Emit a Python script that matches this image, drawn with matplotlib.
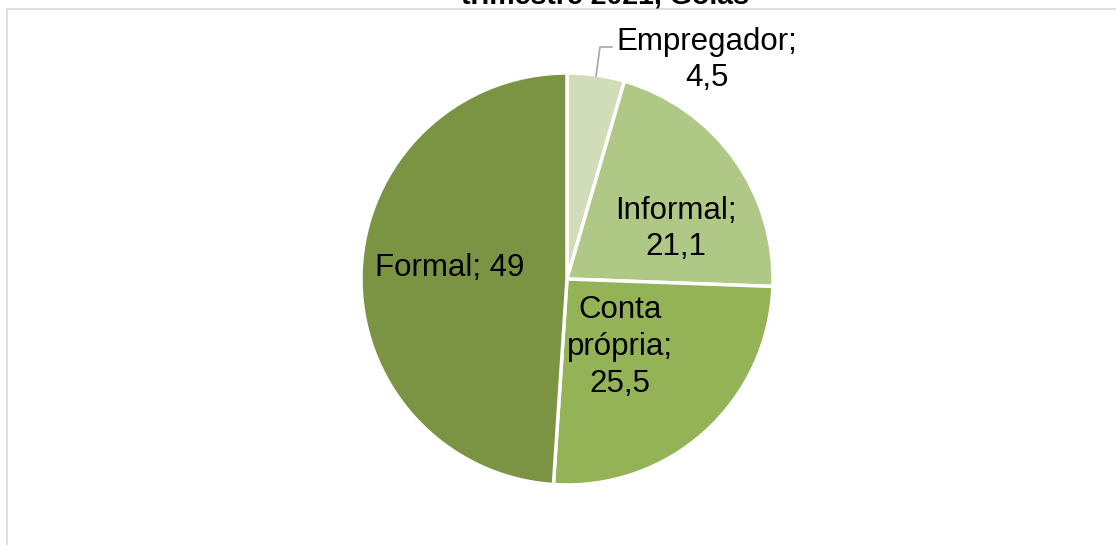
import matplotlib.pyplot as plt
from matplotlib.patches import Rectangle

plt.rcParams['font.family'] = ['Liberation Sans', 'DejaVu Sans']

categorias = ['Empregador', 'Informal', 'Conta própria', 'Formal']
valores = [4.5, 21.1, 25.5, 49]
rotulos = ['Empregador;\n4,5', 'Informal;\n21,1', 'Conta\nprópria;\n25,5', 'Formal; 49']
cores = ['#D0DDB8', '#AFC886', '#93B356', '#7A9443']

W, H = 1116, 545
fig = plt.figure(figsize=(W / 100, H / 100), dpi=100)
ax = fig.add_axes([0, 0, 1, 1])
ax.set_aspect('equal')

# chart area border (cut at right and bottom)
fig.patches.append(Rectangle((7 / W, -0.1), 1.2, 1.1 - 9 / H, transform=fig.transFigure,
                             fill=False, edgecolor='#D9D9D9', linewidth=1.2))

cx, cy, r = 567, H - 279, 206
ax.pie(valores, colors=cores, startangle=90, counterclock=False,
       center=(cx, cy), radius=r, frame=True,
       wedgeprops=dict(edgecolor='white', linewidth=2.5))
ax.set_xlim(0, W)
ax.set_ylim(0, H)
ax.axis('off')

# label placement (pixel offsets from the pie center)
pos = [(140, 219), (109, 50), (53, -68), (-117, 11)]
for lab, (dx, dy) in zip(rotulos, pos):
    ax.text(cx + dx, cy + dy, lab, ha='center', va='center', fontsize=22.5,
            linespacing=1.3, color='black')

# leader line for the small slice
ax.plot([596, 600, 612], [H - 76, H - 47, H - 47], color='#A6A6A6', linewidth=1.2)

fig.text(605 / W, 1 - 3 / H, 'trimestre 2021, Goiás', ha='center', va='baseline',
         fontsize=20.5, fontweight='bold')

fig.savefig('out.png', dpi=100)
